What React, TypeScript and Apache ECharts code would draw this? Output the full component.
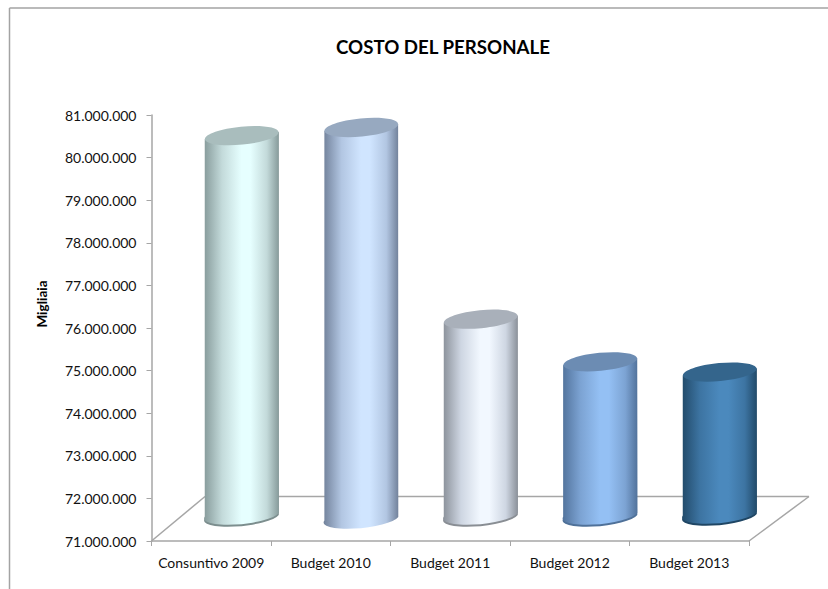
import React, { useEffect, useRef } from "react";
import * as echarts from "echarts";

const TITLE = "COSTO DEL PERSONALE";
const Y_NAME = "Migliaia";
const CATEGORIES = ["Consuntivo 2009", "Budget 2010", "Budget 2011", "Budget 2012", "Budget 2013"];
const VALUES = [80000000, 80190000, 75690000, 74690000, 74450000];

const BODY_EDGE = ["#879b9b", "#72829b", "#8b919a", "#52739c", "#224b6a"];
const BODY_MID = ["#c3dada", "#b2c6e2", "#ced6e2", "#7ca3d3", "#3d74a2"];
const BODY_LIGHT = ["#e6ffff", "#d0e5ff", "#f2f8ff", "#94c0f4", "#4b89bd"];
const CAP = ["#a9bdbd", "#97a9c0", "#a9b0ba", "#6c8cb3", "#34658c"];
const RIM = ["#7c8e8e", "", "#898e94", "#4f7199", "#1f4664"];
const BASE_ADJUST = [-6, -2, -6, -6, -7];

const AXIS_COLOR = "#a6a6a6";
const DEPTH_X = 30.5;
const DEPTH_Y = -22;
const TILT = (5.5 * Math.PI) / 180;
const MINOR = 9;

function fmt(v: number) {
  return String(v).replace(/\B(?=(\d{3})+$)/g, ".");
}

function renderItem(_params: any, api: any) {
  const i = api.value(0);
  const val = api.value(1);
  const a = api.size([1, 0])[0] * 0.31;
  const dx = a * Math.cos(TILT);
  const dy = a * Math.sin(TILT);
  const deg = (-TILT * 180) / Math.PI;
  const top = api.coord([i, val]);
  const base = api.coord([i, 71000000]);
  const cx = top[0] + DEPTH_X;
  const ty = top[1] + DEPTH_Y;
  const by = base[1] + DEPTH_Y + BASE_ADJUST[i];
  const arc = (x: number, y: number, sweep: number) =>
    `A ${a} ${MINOR} ${deg} 0 ${sweep} ${x} ${y}`;
  const bodyPath = (off: number) =>
    `M ${cx - dx} ${ty + dy} L ${cx - dx} ${by + dy + off} ` +
    arc(cx + dx, by - dy + off, 0) +
    ` L ${cx + dx} ${ty - dy} Z`;
  const children: any[] = [];
  if (RIM[i]) {
    children.push({ type: "path", shape: { pathData: bodyPath(2) }, style: { fill: RIM[i] } });
  }
  children.push({
    type: "path",
    shape: { pathData: bodyPath(0) },
    style: {
      fill: {
        type: "linear",
        x: 0,
        y: 0,
        x2: 1,
        y2: 0,
        colorStops: [
          { offset: 0, color: BODY_EDGE[i] },
          { offset: 0.24, color: BODY_MID[i] },
          { offset: 0.5, color: BODY_LIGHT[i] },
          { offset: 0.62, color: BODY_LIGHT[i] },
          { offset: 0.84, color: BODY_MID[i] },
          { offset: 1, color: BODY_EDGE[i] },
        ],
      },
    },
  });
  children.push({
    type: "ellipse",
    x: cx,
    y: ty,
    rotation: TILT,
    shape: { cx: 0, cy: 0, rx: a, ry: MINOR },
    style: { fill: CAP[i] },
  });
  return { type: "group", children };
}

export default function App() {
  const ref = useRef<HTMLDivElement>(null);
  useEffect(() => {
    const chart = echarts.init(ref.current!, null, { renderer: "svg" });
    const font = "Lato";
    const lineStyle = { stroke: AXIS_COLOR, lineWidth: 1.5 };
    const frame = { stroke: "#a3a3a3", lineWidth: 1.5 };
    chart.setOption({
      animation: false,
      backgroundColor: "#ffffff",
      title: {
        text: TITLE,
        left: 438,
        top: 32,
        textAlign: "center",
        textStyle: { fontFamily: font, fontSize: 18.7, fontWeight: "bold", color: "#000000" },
      },
      grid: { left: 151.5, right: 79, top: 115, bottom: 48, outerBoundsMode: "none" },
      xAxis: {
        type: "category",
        data: CATEGORIES,
        axisLine: { lineStyle: { color: AXIS_COLOR, width: 1.5 } },
        axisTick: { show: true, length: 5, lineStyle: { color: AXIS_COLOR } },
        axisLabel: { fontFamily: font, fontSize: 14, color: "#111111", margin: 14, interval: 0 },
      },
      yAxis: {
        type: "value",
        min: 71000000,
        max: 81000000,
        interval: 1000000,
        name: Y_NAME,
        nameLocation: "middle",
        nameGap: 103,
        nameTextStyle: {
          fontFamily: font,
          fontSize: 13.5,
          fontWeight: "bold",
          color: "#000000",
          padding: [0, 0, 0, 48],
        },
        splitLine: { show: false },
        axisLine: { show: true, lineStyle: { color: AXIS_COLOR, width: 1.5 } },
        axisTick: { show: true, length: 5, lineStyle: { color: AXIS_COLOR } },
        axisLabel: { fontFamily: font, fontSize: 14, color: "#111111", margin: 15, formatter: fmt },
      },
      graphic: [
        { type: "line", z: 0, shape: { x1: 9.5, y1: 8, x2: 828, y2: 8 }, style: frame },
        { type: "line", z: 0, shape: { x1: 9.5, y1: 8, x2: 9.5, y2: 589 }, style: frame },
        { type: "line", z: 0, shape: { x1: 151.5, y1: 541, x2: 205, y2: 496.5 }, style: lineStyle },
        { type: "line", z: 0, shape: { x1: 205, y1: 496.5, x2: 809, y2: 496.5 }, style: lineStyle },
        { type: "line", z: 0, shape: { x1: 809, y1: 496.5, x2: 749, y2: 541 }, style: lineStyle },
      ],
      series: [
        {
          type: "custom",
          z: 5,
          clip: false,
          renderItem,
          encode: { x: 0, y: 1 },
          data: VALUES.map((v, i) => [CATEGORIES[i], v]),
        },
      ],
    });
    return () => chart.dispose();
  }, []);
  return (
    <div
      ref={ref}
      style={{ position: "absolute", left: 0, top: 0, width: 828, height: 589 }}
    />
  );
}
